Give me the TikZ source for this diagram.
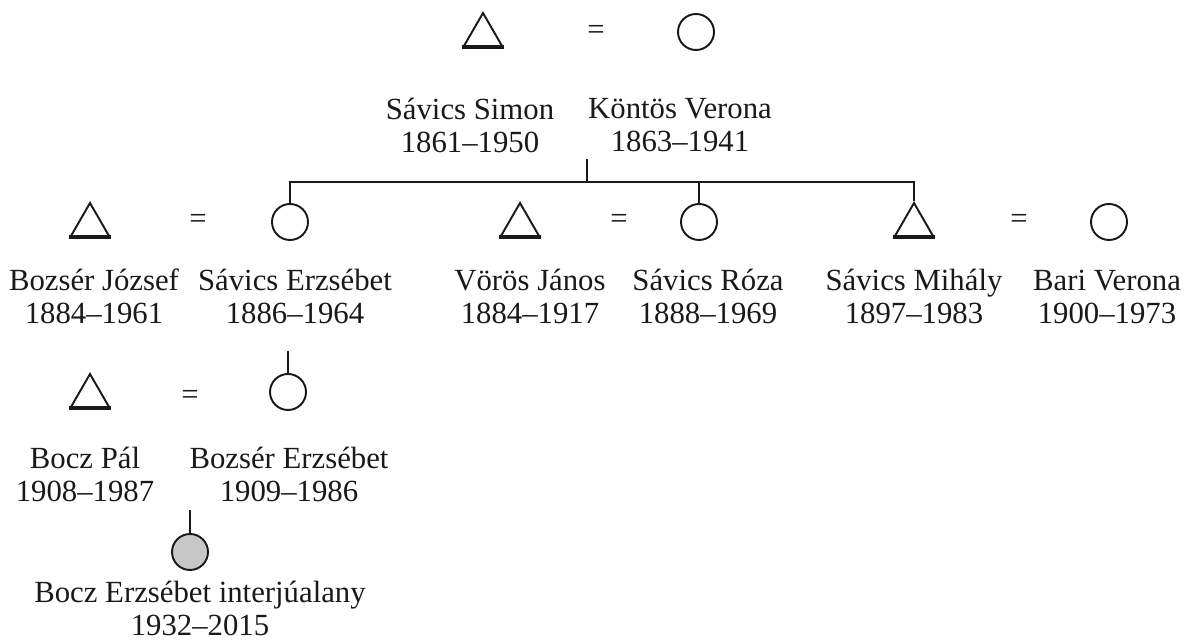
\documentclass[tikz,border=0pt]{standalone}
\usepackage{fontspec}
\setmainfont{Liberation Serif}
\usetikzlibrary{shapes.geometric}

\begin{document}
\begin{tikzpicture}
  [
  font=\fontsize{17.5}{18.8}\selectfont, line width=1.1pt, draw=black!90, text=black!90,
  male/.style={regular polygon, regular polygon sides=3, inner sep=0pt, minimum size=8.8mm, draw},
  female/.style={circle, inner sep=0pt, minimum size=7.2mm, draw},
  ego/.style={female, fill=black!22},
  marriage/.style={inner sep=0pt},
  person/.style={align=center, inner sep=0pt},
  ]

\useasboundingbox (0,0) rectangle (23.72,-12.8);

% grandparents
\node[male] (simon) at (9.66,-0.70) {};
\node[marriage] (m0) at (11.92,-0.64) {=};
\node[female] (verona) at (13.92,-0.64) {};
\node[person] (simonl) at (9.40,-2.51) {Sávics Simon\\1861–1950};
\node[person] (veronal) at (13.60,-2.51) {Köntös Verona\\1863–1941};

% their children with spouses
\node[male] (jozsef) at (1.80,-4.50) {};
\node[marriage] (m1) at (3.96,-4.42) {=};
\node[female] (erzsebet) at (5.80,-4.44) {};
\node[male] (janos) at (10.40,-4.50) {};
\node[marriage] (m2) at (12.38,-4.42) {=};
\node[female] (roza) at (13.98,-4.44) {};
\node[male] (mihaly) at (18.28,-4.50) {};
\node[marriage] (m3) at (20.38,-4.42) {=};
\node[female] (bari) at (22.18,-4.44) {};

\node[person] (jozsefl) at (1.88,-5.93) {Bozsér József\\1884–1961};
\node[person] (erzsebetl) at (5.90,-5.93) {Sávics Erzsébet\\1886–1964};
\node[person] (janosl) at (10.60,-5.93) {Vörös János\\1884–1917};
\node[person] (rozal) at (14.16,-5.93) {Sávics Róza\\1888–1969};
\node[person] (mihalyl) at (18.28,-5.93) {Sávics Mihály\\1897–1983};
\node[person] (baril) at (22.14,-5.93) {Bari Verona\\1900–1973};

% grandchild
\node[male] (pal) at (1.80,-7.92) {};
\node[marriage] (m4) at (3.80,-7.94) {=};
\node[female] (erzsi) at (5.76,-7.84) {};
\node[person] (pall) at (1.70,-9.48) {Bocz Pál\\1908–1987};
\node[person] (erzsil) at (5.78,-9.48) {Bozsér Erzsébet\\1909–1986};

% interviewee
\node[ego] (bocze) at (3.80,-11.04) {};
\node[person] (boczel) at (4.00,-12.16) {Bocz Erzsébet interjúalany\\1932–2015};

% heavier base on the triangles
\foreach \t in {simon,jozsef,janos,mihaly,pal} {
  \draw[line width=1.8pt] (\t.corner 2) -- (\t.corner 3);
}

\coordinate (fam) at (11.74,-3.18);
\coordinate (bar) at (11.74,-3.64);
\coordinate (kid1) at (5.76,-7.02);
\coordinate (kid2) at (3.80,-10.20);

\draw (fam) -- (bar);
\draw (erzsebet.north) -- (erzsebet.north |- bar) -- (mihaly.corner 1 |- bar) -- (mihaly.corner 1);
\draw (roza.north |- bar) -- (roza.north);
\draw (kid1) -- (erzsi.north);
\draw (kid2) -- (bocze.north);
\end{tikzpicture}
\end{document}
